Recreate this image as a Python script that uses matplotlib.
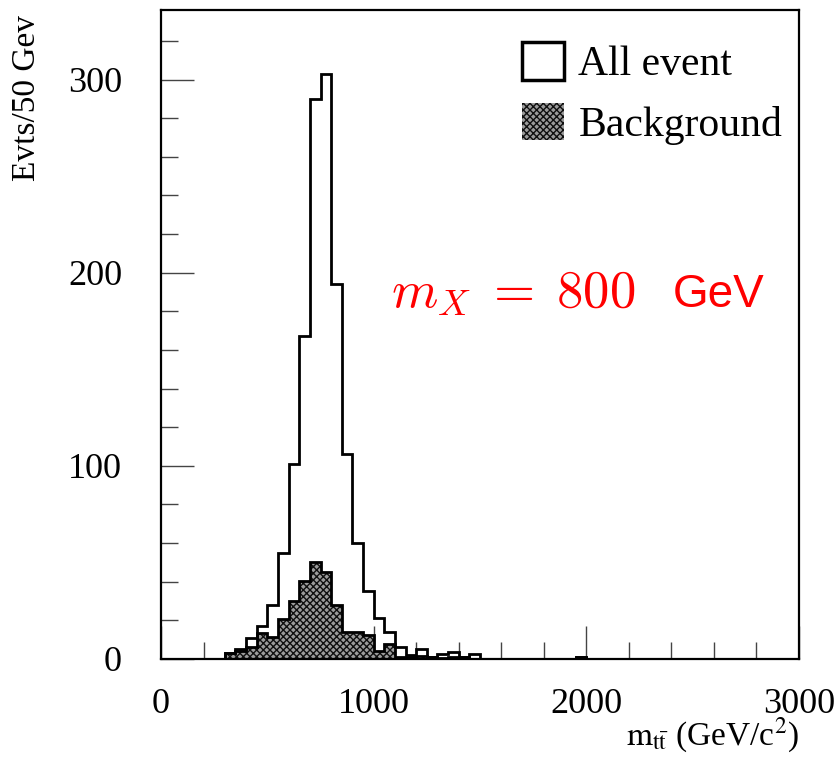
import numpy as np
import matplotlib
matplotlib.use("Agg")
import matplotlib.pyplot as plt
from matplotlib.patches import Patch
from matplotlib.ticker import MultipleLocator

# Histogram content, 50 GeV bins from 300 to 2000 GeV
bin_low = list(range(300, 2000, 50))
all_events = [3, 5, 11, 17, 28, 55, 101, 167, 290, 303,
              194, 106, 60, 35, 21, 14, 6, 2, 5, 1,
              2.5, 3.5, 1, 2.5, 0, 0, 0, 0, 0, 0,
              0, 0, 0, 1]
background = [3, 4, 6, 13.5, 11.5, 20.5, 30, 40.5, 50, 45,
              28, 14, 14, 12.5, 4, 7.5, 1, 1, 1.5, 1,
              0.5, 1, 1, 0, 0, 0, 0, 0, 0, 0,
              0, 0, 0, 1]
bin_width = 50

legend_labels = ["All event", "Background"]
x_ticks = [0, 1000, 2000, 3000]
y_ticks = [0, 100, 200, 300]

plt.rcParams["hatch.linewidth"] = 1.0
serif = ["Liberation Serif", "DejaVu Serif"]
bg_face = "#9c9c9c"
bg_hatch = "#101010"

fig = plt.figure(figsize=(8.36, 7.57), dpi=100)
ax = fig.add_axes([0.1926, 0.1295, 0.7631, 0.8573])

edges = np.array(bin_low + [bin_low[-1] + bin_width])

# background: textured grey fill with black outline
ax.stairs(background, edges, fill=True, facecolor=bg_face,
          edgecolor=bg_hatch, hatch="xxxxx", linewidth=0, zorder=2)
ax.stairs(background, edges, color="black", linewidth=2.0, zorder=3)
# all events outline
ax.stairs(all_events, edges, color="black", linewidth=2.0, zorder=4)

ax.set_xlim(0, 3000)
ax.set_ylim(0, 336)

for s in ax.spines.values():
    s.set_linewidth(1.6)
    s.set_zorder(6)

ax.set_xticks(x_ticks)
ax.set_yticks(y_ticks)
ax.xaxis.set_minor_locator(MultipleLocator(200))
ax.yaxis.set_minor_locator(MultipleLocator(20))
ax.tick_params(axis="both", which="both", direction="in", color="#444444",
               width=1.0, top=False, right=False)
ax.tick_params(axis="x", which="major", length=24, pad=21)
ax.tick_params(axis="x", which="minor", length=12)
ax.tick_params(axis="y", which="major", length=24, pad=28)
ax.tick_params(axis="y", which="minor", length=12)
for lab in ax.get_xticklabels() + ax.get_yticklabels():
    lab.set_fontfamily(serif)
    lab.set_fontsize(26)

ax.set_ylabel("Evts/50 Gev", fontsize=24, fontfamily=serif)
ax.yaxis.set_label_coords(-0.186, 0.992)
ax.yaxis.label.set_horizontalalignment("right")

ax.set_xlabel(r"$\mathrm{m}_{\mathrm{t\bar{t}}}$ (GeV/c$^{\mathrm{2}}$)",
              fontsize=24, fontfamily=serif, math_fontfamily="stix")
ax.xaxis.set_label_coords(1.0, -0.088)
ax.xaxis.label.set_horizontalalignment("right")

# legend
h_all = Patch(facecolor="white", edgecolor="black", linewidth=2.5)
h_bg = Patch(facecolor=bg_face, edgecolor=bg_hatch, hatch="xxxxx",
             linewidth=0)
ax.legend([h_all, h_bg], legend_labels, loc="upper left",
          bbox_to_anchor=(0.566, 0.95), frameon=False, borderpad=0,
          handlelength=1.0, handleheight=1.0, handletextpad=0.35,
          labelspacing=0.45, borderaxespad=0,
          prop={"family": serif, "size": 30})

# mass annotation
ax.text(1080, 182, r"$m_X\;=\;800$", color="red", fontsize=38,
        math_fontfamily="cm", ha="left", va="baseline")
ax.text(2405, 182, "GeV", color="red", fontsize=33,
        fontfamily=["Liberation Sans", "DejaVu Sans"], ha="left",
        va="baseline")

fig.savefig("out.png", dpi=100)
